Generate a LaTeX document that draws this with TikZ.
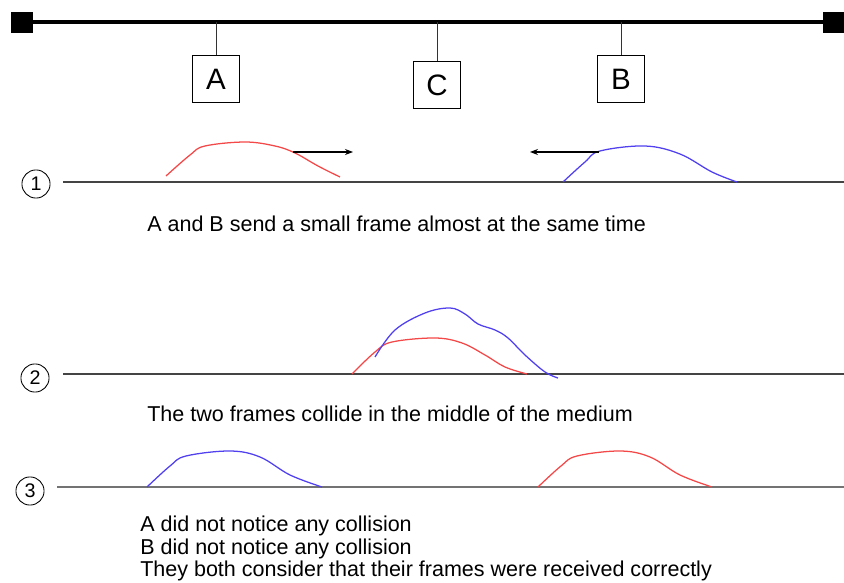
\documentclass[tikz,border=0pt]{standalone}
\usepackage{fontspec}
\setmainfont{Liberation Sans}
\usetikzlibrary{arrows.meta}
\definecolor{sigred}{HTML}{F44848}
\definecolor{sigblue}{HTML}{5040F0}
\definecolor{lineg}{HTML}{444444}
\tikzset{
  busline/.style={line width=2.8pt,draw=black},
  busend/.style={draw=black,fill=black,minimum width=15pt,minimum height=14pt,inner sep=0pt},
  tap/.style={line width=0.6pt,draw=black!80},
  stbox/.style={draw=black,fill=white,line width=0.6pt,minimum width=33pt,minimum height=34pt,inner sep=0pt,font=\fontsize{21}{22}\selectfont},
  tline/.style={line width=1.1pt,draw=lineg},
  stepnum/.style={circle,draw=black,line width=0.6pt,minimum size=20pt,inner sep=0pt,font=\fontsize{14}{15}\selectfont},
  sigr/.style={draw=sigred,line width=0.9pt},
  sigb/.style={draw=sigblue,line width=0.9pt},
  marr/.style={-{Stealth[length=2mm]},line width=0.8pt,draw=black},
  caption/.style={anchor=west,inner sep=0pt,font=\fontsize{15.3}{16}\selectfont,align=left}
}
\begin{document}
\begin{tikzpicture}[x=0.025cm,y=-0.025cm]
  \useasboundingbox (0,0) rectangle (844,583);
  % shared medium
  \node[busend] (lend) at (22,22) {};
  \node[busend] (rend) at (834,22) {};
  \draw[busline] (lend.center) -- (rend.center);
  \node[stbox] (sa) at (216,79) {A};
  \node[stbox] (sc) at (437,85) {C};
  \node[stbox] (sb) at (621,79) {B};
  \foreach \s in {sa,sc,sb}
    \draw[tap] (\s.north) -- (\s.north |- lend.center);
  % step 1
  \node[stepnum] (n1) at (36,184) {1};
  \coordinate (e1) at (844,182);
  \draw[tline] (63,182) -- (e1);
  \draw[sigr] plot[smooth,tension=0.6] coordinates {(166,176) (190,155) (205,146) (245,142) (275,146) (295,153) (318,166) (340,177)};
  \draw[sigb] plot[smooth,tension=0.6] coordinates {(563,182) (585,162) (600,151) (645,146) (680,154) (712,172) (737,182)};
  \coordinate (a1s) at (293,152);
  \coordinate (a1e) at (353,152);
  \coordinate (b1s) at (599,152);
  \coordinate (b1e) at (530,152);
  \draw[marr] (a1s) -- (a1e);
  \draw[marr] (b1s) -- (b1e);
  \node[caption] (t1) at (147,224) {A and B send a small frame almost at the same time};
  % step 2
  \node[stepnum] (n2) at (35,378) {2};
  \coordinate (e2) at (844,374);
  \draw[tline] (63,374) -- (e2);
  \draw[sigr] plot[smooth,tension=0.6] coordinates {(352,374) (375,352) (392,342) (435,338) (462,343) (485,355) (505,367) (527,374)};
  \draw[sigb] plot[smooth,tension=0.6] coordinates {(375,357) (395,330) (425,313) (450,308) (465,314) (478,324) (495,330) (508,338) (525,355) (545,372) (558,378)};
  \node[caption] (t2) at (147,414) {The two frames collide in the middle of the medium};
  % step 3
  \node[stepnum] (n3) at (30,491) {3};
  \coordinate (e3) at (844,487);
  \draw[tline,draw=black!55] (57,487) -- (e3);
  \draw[sigb] plot[smooth,tension=0.6] coordinates {(147,487) (170,466) (186,456) (230,451) (260,457) (290,475) (322,487)};
  \draw[sigr] plot[smooth,tension=0.6] coordinates {(538,487) (561,466) (577,456) (620,451) (650,457) (680,475) (712,487)};
  \node[caption,anchor=north west] (t3) at (140,516) {A did not notice any collision\\B did not notice any collision\\They both consider that their frames were received correctly};
\end{tikzpicture}
\end{document}
